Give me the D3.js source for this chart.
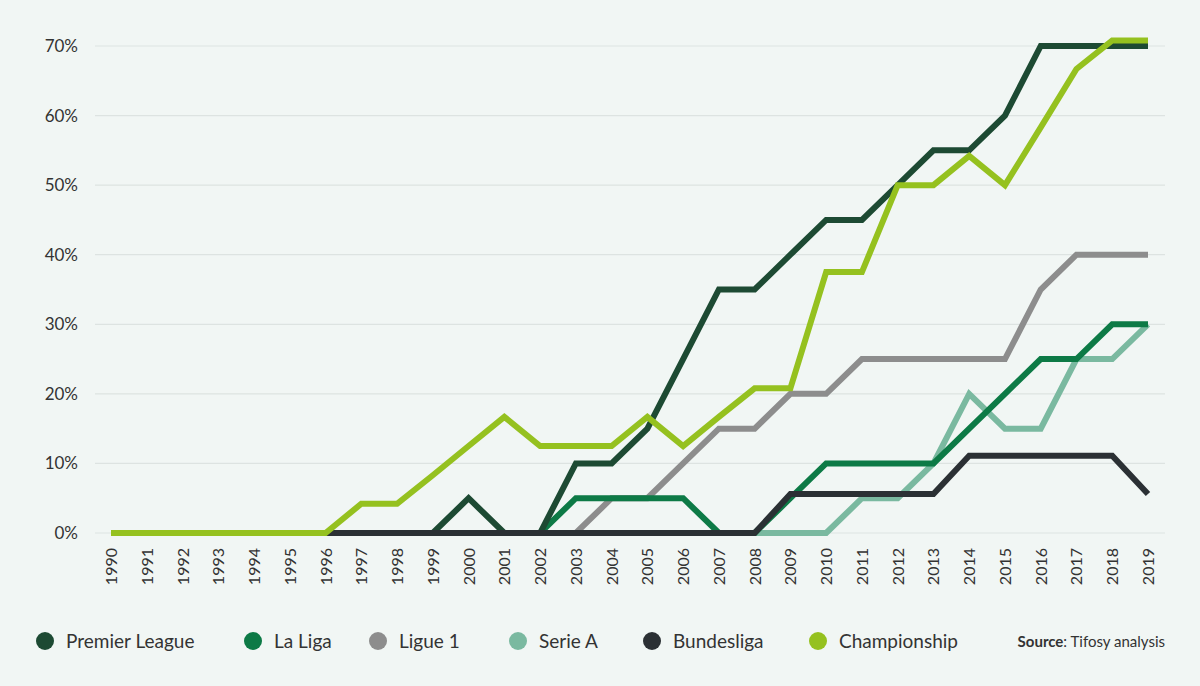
<!DOCTYPE html>
<html><head><meta charset="utf-8">
<script src="https://cdn.jsdelivr.net/npm/d3@7"></script>
<style>body{margin:0;background:#f1f6f4;font-family:Lato,"Open Sans",sans-serif}</style>
</head><body><div id="chart"></div>
<script>
var years = d3.range(1990, 2020);
var premierLeague = [0,0,0,0,0,0,0,0,0,0,5,0,0,10,10,15,25,35,35,40,45,45,50,55,55,60,70,70,70,70];
var laLiga = [0,0,0,0,0,0,0,0,0,0,0,0,0,5,5,5,5,0,0,5,10,10,10,10,15,20,25,25,30,30];
var ligue1 = [0,0,0,0,0,0,0,0,0,0,0,0,0,0,5,5,10,15,15,20,20,25,25,25,25,25,35,40,40,40];
var serieA = [null,null,null,null,null,null,null,null,null,null,null,null,null,null,null,null,null,null,0,0,0,5,5,10,20,15,15,25,25,30];
var bundesliga = [0,0,0,0,0,0,0,0,0,0,0,0,0,0,0,0,0,0,0,5.6,5.6,5.6,5.6,5.6,11.1,11.1,11.1,11.1,11.1,5.6];
var championship = [0,0,0,0,0,0,0,4.2,4.2,8.3,12.5,16.7,12.5,12.5,12.5,16.7,12.5,16.7,20.8,20.8,37.5,37.5,50,50,54.2,50,58.3,66.7,70.8,70.8];
var yTicks = [0,10,20,30,40,50,60,70];
var seriesNames = ["Premier League","La Liga","Ligue 1","Serie A","Bundesliga","Championship"];
var seriesColors = ["#1d4a33","#0d7a46","#8d8d8d","#7ab9a0","#2b3034","#95c11f"];
var seriesData = [premierLeague,laLiga,ligue1,serieA,bundesliga,championship];

var w = 1200, h = 686;
var svg = d3.select("#chart").append("svg").attr("width", w).attr("height", h);
svg.append("rect").attr("width", w).attr("height", h).attr("fill", "#f1f6f4");

var x = d3.scalePoint().domain(years).range([111, 1148]);
var y = d3.scaleLinear().domain([0, 70]).range([533, 46]);

// gridlines + y labels
svg.selectAll(".grid").data(yTicks).enter().append("line")
  .attr("x1", 95).attr("x2", 1165)
  .attr("y1", d => y(d)).attr("y2", d => y(d))
  .attr("stroke", "#dde3e1").attr("stroke-width", 1.2);
svg.selectAll(".yl").data(yTicks).enter().append("text")
  .attr("x", 78).attr("y", d => y(d) + 6).attr("text-anchor", "end")
  .attr("font-size", 17).attr("fill", "#333").text(d => d + "%");

// x labels
svg.selectAll(".xl").data(years).enter().append("text")
  .attr("transform", d => "translate(" + (x(d) + 6) + ",548) rotate(-90)")
  .attr("text-anchor", "end").attr("font-size", 16).attr("fill", "#333").text(d => d);

var line = d3.line().defined(d => d != null)
  .x((d, i) => x(years[i])).y(d => y(d));

// draw bottom-up so Championship sits on top; Bundesliga over others at zero
var order = [2, 3, 1, 0, 4, 5];
order.forEach(function (k) {
  svg.append("path").datum(seriesData[k]).attr("d", line)
    .attr("fill", "none").attr("stroke", seriesColors[k])
    .attr("stroke-width", 6).attr("stroke-linejoin", "miter");
});

// legend
var legX = [45, 253, 378, 518, 652, 818];
seriesNames.forEach(function (n, i) {
  var g = svg.append("g").attr("transform", "translate(" + legX[i] + ",641)");
  g.append("circle").attr("r", 9).attr("fill", seriesColors[i]);
  g.append("text").attr("x", 21).attr("y", 7).attr("font-size", 19).attr("fill", "#333").text(n);
});
var src = svg.append("text").attr("x", 1165).attr("y", 647).attr("text-anchor", "end")
  .attr("font-size", 15).attr("fill", "#333");
src.append("tspan").attr("font-weight", "bold").text("Source");
src.append("tspan").text(": Tifosy analysis");
</script></body></html>
